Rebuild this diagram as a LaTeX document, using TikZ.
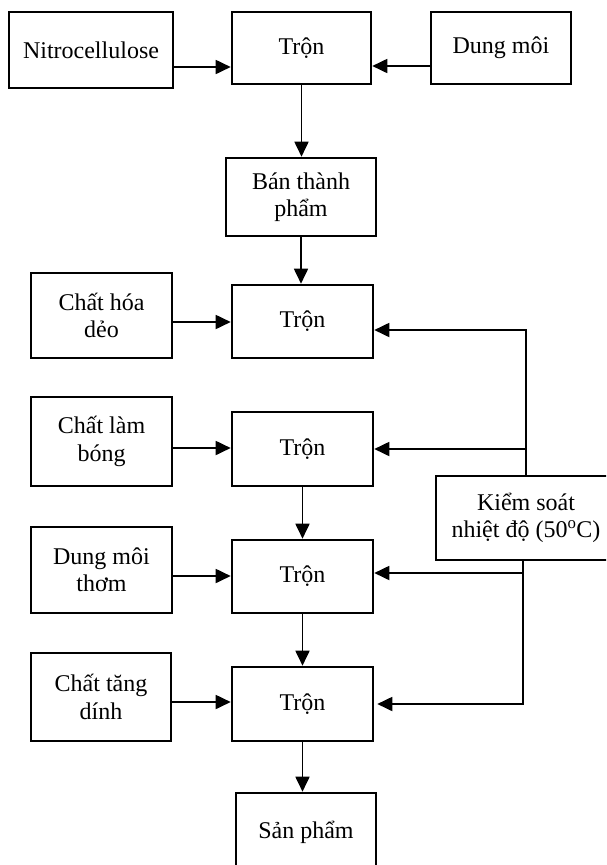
\documentclass[tikz,border=0pt]{standalone}
\usepackage{fontspec}
\setmainfont{Liberation Serif}
\usetikzlibrary{arrows.meta}
\begin{document}
\begin{tikzpicture}[x=1pt,y=-1pt,
  box/.style={draw=black,line width=2.6pt,fill=white,inner sep=0pt,align=center,
    font=\fontsize{24}{27.5}\selectfont},
  arr/.style={line width=1.8pt,-{Triangle[length=15pt,width=14pt]}},
  ln/.style={line width=1.8pt}]
\useasboundingbox (0,0) rectangle (606,865);
\clip (0,0) rectangle (606,865);
% top row
\node[box,minimum width=164pt,minimum height=76pt] (nitro) at (91,50) {Nitrocellulose};
\node[box,minimum width=139pt,minimum height=72pt] (tron1) at (301.5,48) {Trộn};
\node[box,minimum width=140pt,minimum height=72pt] (dung) at (501,48) {Dung môi};
\node[box,minimum width=150pt,minimum height=78pt] (ban) at (301,197) {Bán thành\\phẩm};
% second
\node[box,minimum width=141pt,minimum height=73pt] (tron2) at (302.5,321.5) {Trộn};
\node[box,minimum width=141pt,minimum height=85pt] (hoa) at (101.5,315.5) {Chất hóa\\dẻo};
% third
\node[box,minimum width=141pt,minimum height=74pt] (tron3) at (302.5,449) {Trộn};
\node[box,minimum width=141pt,minimum height=89pt] (bong) at (101.5,441.5) {Chất làm\\bóng};
% control
\node[box,minimum width=180pt,minimum height=84pt] (ks) at (526,518) {Kiểm soát\\nhiệt độ (50\textsuperscript{o}C)};
% fourth
\node[box,minimum width=141pt,minimum height=73pt] (tron4) at (302.5,576.5) {Trộn};
\node[box,minimum width=141pt,minimum height=86pt] (thom) at (101.5,570) {Dung môi\\thơm};
% fifth
\node[box,minimum width=141pt,minimum height=74pt] (tron5) at (302.5,704) {Trộn};
\node[box,minimum width=140pt,minimum height=88pt] (dinh) at (101,697) {Chất tăng\\dính};
% product
\node[box,minimum width=140pt,minimum height=78pt] (san) at (306,832) {Sản phẩm};
% connectors
\draw[arr] ([yshift=-17pt]nitro.east) -- ([yshift=-17pt]nitro.east -| tron1.west);
\draw[arr] ([yshift=-18pt]dung.west) -- ([yshift=-18pt]dung.west -| tron1.east);
\draw[arr] (tron1.south) -- (tron1.south |- ban.north);
\draw[arr] (ban.south) -- (ban.south |- tron2.north);
\draw[arr] ([yshift=-6.5pt]hoa.east) -- ([yshift=-6.5pt]hoa.east -| tron2.west);
\draw[arr] ([yshift=-6.5pt]bong.east) -- ([yshift=-6.5pt]bong.east -| tron3.west);
\draw[arr] (tron3.south) -- (tron4.north);
\draw[arr] ([yshift=-6pt]thom.east) -- ([yshift=-6pt]thom.east -| tron4.west);
\draw[arr] (tron4.south) -- (tron5.north);
\draw[arr] ([yshift=-5pt]dinh.east) -- ([yshift=-5pt]dinh.east -| tron5.west);
\draw[arr] (tron5.south) -- (tron5.south |- san.north);
% feedback from control
\draw[arr] (ks.north) |- ([yshift=-8.5pt]tron2.east);
\draw[arr] (ks.north |- tron3.east) -- (tron3.east);
\draw[arr] ([xshift=-3pt,yshift=3.5pt]ks.south |- tron4.east) -- ([yshift=3.5pt]tron4.east);
\draw[arr,shorten >=3pt] ([xshift=-3pt]ks.south) |- (tron5.east);
\end{tikzpicture}
\end{document}
